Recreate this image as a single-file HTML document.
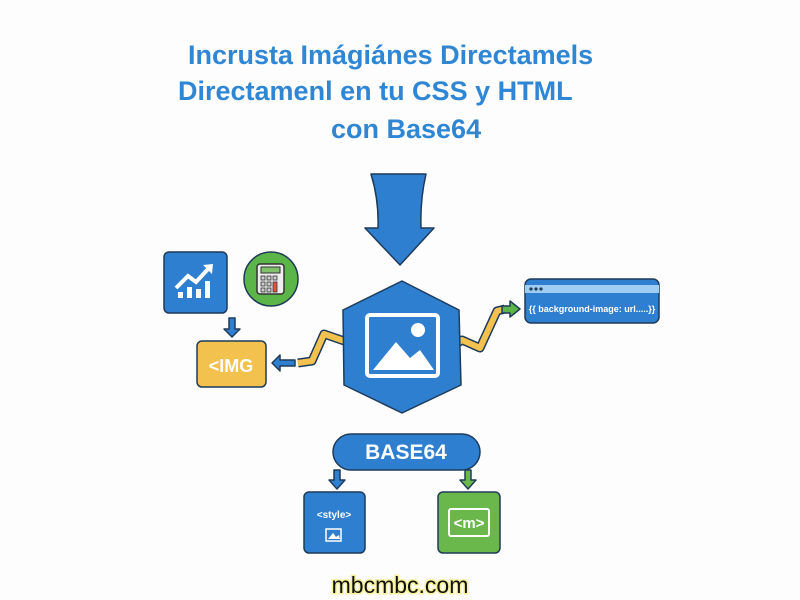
<!DOCTYPE html>
<html><head><meta charset="utf-8"><style>
html,body{margin:0;padding:0;background:#fdfdfd;}
body{width:800px;height:600px;overflow:hidden;position:relative;font-family:"Liberation Sans",sans-serif;}
.t{position:absolute;color:#2f86d4;font-weight:bold;font-size:27px;white-space:nowrap;}
</style></head><body>
<div class="t" style="left:188px;top:40px;">Incrusta Imágiánes Directamels</div>
<div class="t" style="left:178px;top:76px;">Directamenl en tu CSS y HTML</div>
<div class="t" style="left:331px;top:114px;">con Base64</div>
<svg width="800" height="600" style="position:absolute;left:0;top:0" font-family="Liberation Sans, sans-serif">
<!-- yellow paths as thick outlined polylines -->
<g fill="none" stroke-linejoin="round" stroke-linecap="butt">
<path d="M298,363 L312,361 L324,334 L350,343" stroke="#1f3b5a" stroke-width="9"/>
<path d="M298,363 L312,361 L324,334 L350,343" stroke="#f2c14e" stroke-width="6"/>
<path d="M452,347 L462,340 L480,348 L497,311 L505,309" stroke="#1f3b5a" stroke-width="9"/>
<path d="M452,347 L462,340 L480,348 L497,311 L505,309" stroke="#f2c14e" stroke-width="6"/>
</g>
<g stroke="#1f3b5a" stroke-width="1.5" stroke-linejoin="round">
<path d="M346,334 L358,345 L344,351 Z" fill="#f2c14e"/>
<path d="M371,174 L426,174 Q420,200 421,228 L434,228 L400,265 L365,228 L378,228 Q379,200 371,174 Z" fill="#2f7fd0"/>
<path d="M402,281 L459,310 L461,385 L402,413 L344,385 L343,310 Z" fill="#2f7fd0"/>
<rect x="164" y="252" width="63" height="61" rx="5" fill="#2f7fd0"/>
<circle cx="271" cy="279" r="27" fill="#5cb548"/>
<rect x="197" y="341" width="69" height="46" rx="5" fill="#f2c14e"/>
<rect x="525" y="279" width="134" height="44" rx="6" fill="#2f7fd0"/>
<rect x="525" y="285" width="134" height="8" fill="#9fcdf2" stroke="none"/>
<rect x="333" y="434" width="147" height="36" rx="18" fill="#2f7fd0"/>
<rect x="304" y="492" width="61" height="61" rx="5" fill="#2f7fd0"/>
<rect x="438" y="492" width="62" height="61" rx="5" fill="#6ab84c"/>
<path d="M229,318 L235,318 L235,329 L240,329 L232,337 L224,329 L229,329 Z" fill="#2f7fd0"/>
<path d="M295,360 L280,360 L280,355 L272,363 L280,371 L280,366 L295,366 Z" fill="#2f7fd0"/>
<path d="M334,470 L340,470 L340,480 L345,480 L337,489 L329,480 L334,480 Z" fill="#2f7fd0"/>
<path d="M465,470 L471,470 L471,480 L476,480 L468,489 L460,480 L465,480 Z" fill="#6ab84c"/>
<path d="M502,306 L510,306 L510,301 L520,309 L510,317 L510,313 L502,313 Z" fill="#5cb548"/>
</g>
<g fill="#fff">
<rect x="178" y="292" width="5" height="6"/><rect x="187" y="287" width="5" height="11"/><rect x="196" y="289" width="5" height="9"/><rect x="205" y="281" width="5" height="17"/>
<path d="M176,288 L188,276 L196,282 L209,268" stroke="#fff" stroke-width="4" fill="none"/>
<path d="M203,265 L213,264 L212,274 Z"/>
</g>
<rect x="257" y="264" width="27" height="30" rx="3" fill="#eee" stroke="#333" stroke-width="1.5"/>
<rect x="261" y="267" width="19" height="6" fill="#7fc26a" stroke="#333"/>
<g fill="#ccc" stroke="#333" stroke-width="0.8">
<rect x="261" y="276" width="4" height="4"/><rect x="267" y="276" width="4" height="4"/><rect x="273" y="276" width="4" height="4"/>
<rect x="261" y="282" width="4" height="4"/><rect x="267" y="282" width="4" height="4"/><rect x="261" y="288" width="4" height="4"/><rect x="267" y="288" width="4" height="4"/>
<rect x="273" y="282" width="4" height="10" fill="#e5533f"/></g>
<text x="231" y="372" fill="#fff" font-size="18" font-weight="bold" text-anchor="middle">&lt;IMG</text>
<rect x="367" y="315" width="71" height="61" rx="3" fill="none" stroke="#fff" stroke-width="4"/>
<circle cx="418" cy="330" r="7" fill="#fff"/>
<path d="M373,370 L396,342 L410,358 L420,350 L434,370 Z" fill="#fff"/>
<circle cx="531" cy="289" r="1.6" fill="#1f3b5a"/><circle cx="536" cy="289" r="1.6" fill="#1f3b5a"/><circle cx="541" cy="289" r="1.6" fill="#1f3b5a"/>
<text x="592" y="312" fill="#fff" font-size="9" font-weight="bold" text-anchor="middle">{{ background-image: url.....}}</text>
<text x="406" y="459" fill="#fff" font-size="21" font-weight="bold" text-anchor="middle">BASE64</text>
<text x="334" y="518" fill="#fff" font-size="10" font-weight="bold" text-anchor="middle">&lt;style&gt;</text>
<rect x="326" y="529" width="15" height="12" fill="none" stroke="#fff" stroke-width="1.5"/>
<path d="M328,539 L333,533 L336,537 L339,535 L340,539 Z" fill="#fff"/>
<rect x="449" y="509" width="40" height="27" rx="2" fill="none" stroke="#fff" stroke-width="2"/>
<text x="469" y="528" fill="#fff" font-size="15" font-weight="bold" text-anchor="middle">&lt;m&gt;</text>
<text x="400" y="593" fill="#111" font-size="23" text-anchor="middle" style="paint-order:stroke" stroke="#f7f19a" stroke-width="3">mbcmbc.com</text>
</svg>
</body></html>
